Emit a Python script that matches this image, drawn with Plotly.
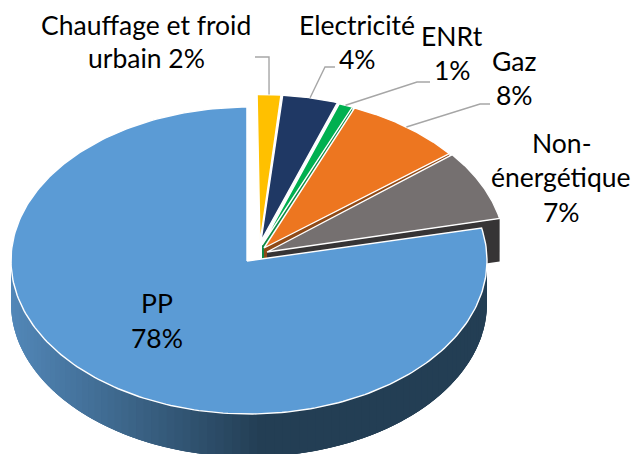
import numpy as np
import plotly.graph_objects as go

# ---- data ----
names = ["Chauffage et froid urbain", "Electricité", "ENRt", "Gaz", "Non-énergétique", "PP"]
values = [1.6, 3.8, 1.0, 8.0, 7.4, 78.2]
colors = ["#FFC000", "#1F3864", "#00B050", "#ED7620", "#757070", "#5B9BD5"]
wall_colors = [None, None, "#0E8A45", "#8F4A17", "#363435", None]

# ---- layout geometry (pixels) ----
W, H = 633, 454
RX, RY = 238, 153.5
DEPTH = 43
START_DEG = -0.7
rim_centres = [(260, 248), (261, 248), (262, 249), (264, 250), (267, 251), (249, 260.5)]
apexes = [(260, 243), (261, 241), (262, 245), (264, 248), (267, 252), (247, 261)]
FONT = "Lato"
FS = 26.5
LINE_COL = "#A6A6A6"
elbows = [[(269, 57), (255, 57)], [(325, 67), (335, 67)], [(417, 82), (430, 82)], [(480, 104), (490, 104)]]
label_lines = [
    [("Chauffage et froid", 146, 25), ("urbain {p}", 146, 58)],
    [("Electricité", 357, 25), ("{p}", 357, 59)],
    [("ENRt", 452, 36), ("{p}", 452, 70)],
    [("Gaz", 514, 61), ("{p}", 514, 95)],
    [("Non-", 561, 143), ("énergétique", 561, 177), ("{p}", 561, 212)],
    [("PP", 157, 303), ("{p}", 157, 338)],
]

edges = START_DEG + np.concatenate([[0], np.cumsum(values)]) * 3.6


def rim(centre, a0, a1, n=80):
    t = np.radians(np.linspace(a0, a1, n))
    return centre[0] + RX * np.sin(t), centre[1] - RY * np.cos(t)


fig = go.Figure()


def poly(xs, ys, fill, line_col=None, lw=0):
    fig.add_trace(go.Scatter(
        x=list(xs), y=list(ys), mode="lines", fill="toself", fillcolor=fill,
        line=dict(color=line_col or fill, width=lw), hoverinfo="skip", showlegend=False,
    ))


def mix(c0, c1, f):
    return "rgb(%d,%d,%d)" % tuple(round(a + (b - a) * f) for a, b in zip(c0, c1))


n = len(values)
# back slices, back to front
for i in range(n - 1):
    c, ap = rim_centres[i], apexes[i]
    rx, ry = rim(c, edges[i], edges[i + 1])
    if wall_colors[i]:
        ex, ey = rx[-1], ry[-1]
        poly([ap[0], ex, ex, ap[0]], [ap[1], ey, ey + DEPTH, ap[1] + DEPTH], wall_colors[i])
    poly(np.r_[ap[0], rx, ap[0]], np.r_[ap[1], ry, ap[1]], colors[i], "white", 1.4)

# main slice: outer wall with a left-to-right shade (strips overlap so no seams show)
c = rim_centres[-1]
LEFT_C, RIGHT_C = (82, 135, 184), (35, 62, 84)
steps = np.linspace(271, 89, 91)
for a0, a1 in zip(steps[:-1], steps[1:]):
    end = max(a1 - 4, 89)
    rx, ry = rim(c, a0, end, 8)
    fx, _ = rim(c, a0, a1, 2)
    f = min(1.0, max(0.0, (fx.mean() - 11) / 250))
    col = mix(LEFT_C, RIGHT_C, f)
    poly(np.r_[rx, rx[::-1]], np.r_[ry, (ry + DEPTH)[::-1]], col)

rx, ry = rim(c, edges[-2], edges[-1] + 0.2, 240)
ap = apexes[-1]
poly(np.r_[ap[0], rx, ap[0]], np.r_[ap[1], ry, ap[1]], colors[-1], "white", 1.4)

# leader lines
for i, pts in enumerate(elbows):
    mid = (edges[i] + edges[i + 1]) / 2
    sx, sy = rim(rim_centres[i], mid, mid, 1)
    fig.add_trace(go.Scatter(
        x=[sx[0]] + [p[0] for p in pts], y=[sy[0]] + [p[1] for p in pts], mode="lines",
        line=dict(color=LINE_COL, width=1.4), hoverinfo="skip", showlegend=False,
    ))

# labels
annotations = []
for v, lines in zip(values, label_lines):
    pct = f"{round(v)}%"
    for txt, x, y in lines:
        annotations.append(dict(
            x=x, y=y, xref="x", yref="y", text=txt.format(p=pct), showarrow=False,
            xanchor="center", yanchor="middle", font=dict(family=FONT, size=FS, color="#000000"),
        ))

fig.update_layout(
    width=W, height=H, margin=dict(l=0, r=0, t=0, b=0),
    paper_bgcolor="white", plot_bgcolor="white", showlegend=False, annotations=annotations,
    xaxis=dict(range=[0, W], visible=False, fixedrange=True),
    yaxis=dict(range=[H, 0], visible=False, fixedrange=True),
)
fig.write_html("out.html", config={"displayModeBar": False},
               post_script="document.body.style.margin='0';")
